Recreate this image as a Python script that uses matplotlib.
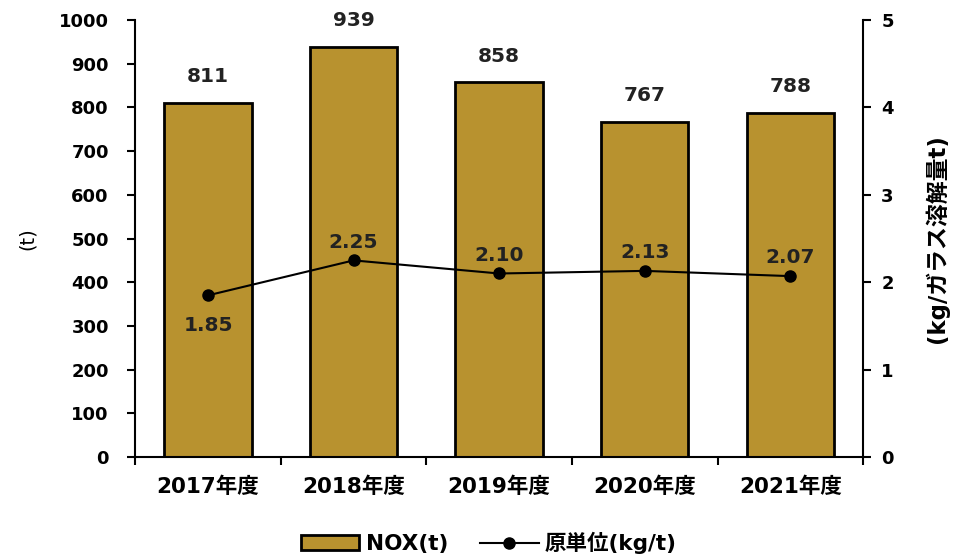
import matplotlib
matplotlib.use('Agg')
import matplotlib.pyplot as plt
from matplotlib.patches import Patch
from matplotlib.lines import Line2D

plt.rcParams['font.family'] = ['DejaVu Sans', 'Noto Sans CJK JP']
plt.rcParams['font.weight'] = 'bold'

years = ['2017年度', '2018年度', '2019年度', '2020年度', '2021年度']
nox = [811, 939, 858, 767, 788]
unit = [1.85, 2.25, 2.10, 2.13, 2.07]
unit_labels = ['1.85', '2.25', '2.10', '2.13', '2.07']

bar_color = '#B8922F'
fs = 13

fig = plt.figure(figsize=(9.59, 5.58), dpi=100)
ax = fig.add_axes([0.141, 0.181, 0.759, 0.783])
x = list(range(len(years)))
ax.bar(x, nox, width=0.6, color=bar_color, edgecolor='black', linewidth=2, zorder=2)
for xi, v in zip(x, nox):
    ax.text(xi, v + 38, str(v), ha='center', va='bottom', fontsize=14.5, fontweight='bold', color='#222222')

ax.set_xlim(-0.5, 4.5)
ax.set_ylim(0, 1000)
ax.set_yticks(range(0, 1001, 100))
ax.set_xticks([i + 0.5 for i in range(-1, 5)], minor=False)
ax.set_xticklabels([''] * 6)
ax.set_xticks(x, minor=True)
ax.set_xticklabels(years, minor=True, fontsize=15.5, fontweight='bold')
ax.tick_params(axis='x', which='minor', length=0, pad=14)
ax.tick_params(axis='x', which='major', length=6, width=1.5, direction='out')
ax.tick_params(axis='y', length=6, width=1.5, labelsize=fs, pad=13)
for s in ['top', 'right']:
    ax.spines[s].set_visible(False)
ax.spines['left'].set_linewidth(1.5)
ax.spines['bottom'].set_linewidth(1.5)
ax.set_ylabel('(t)', fontsize=14, fontweight='normal', labelpad=16)

ax2 = ax.twinx()
ax2.plot(x, unit, color='black', linewidth=1.5, marker='o', markersize=8, zorder=3)
for xi, v, lab in zip(x, unit, unit_labels):
    if xi == 0:
        ax2.text(xi, v - 0.24, lab, ha='center', va='top', fontsize=14.5, fontweight='bold', color='#222222')
    else:
        ax2.text(xi, v + 0.1, lab, ha='center', va='bottom', fontsize=14.5, fontweight='bold', color='#222222')
ax2.set_ylim(0, 5)
ax2.set_yticks(range(0, 6))
ax2.tick_params(axis='y', length=6, width=1.5, labelsize=fs, pad=7)
for s in ['top', 'left', 'bottom']:
    ax2.spines[s].set_visible(False)
ax2.spines['right'].set_linewidth(1.5)
ax2.set_ylabel('(kg/ガラス溶解量t)', fontsize=16.5, fontweight='bold', rotation=90, labelpad=22)

handles = [Patch(facecolor=bar_color, edgecolor='black', linewidth=2, label='NOX(t)'),
           Line2D([0], [0], color='black', linewidth=1.5, marker='o', markersize=8, label='原単位(kg/t)')]
fig.legend(handles=handles, loc='center', bbox_to_anchor=(0.51, 0.027), ncol=2, frameon=False,
           fontsize=15.5, handlelength=2.7, handletextpad=0.3, columnspacing=1.5)

fig.savefig('out.png', dpi=100)
